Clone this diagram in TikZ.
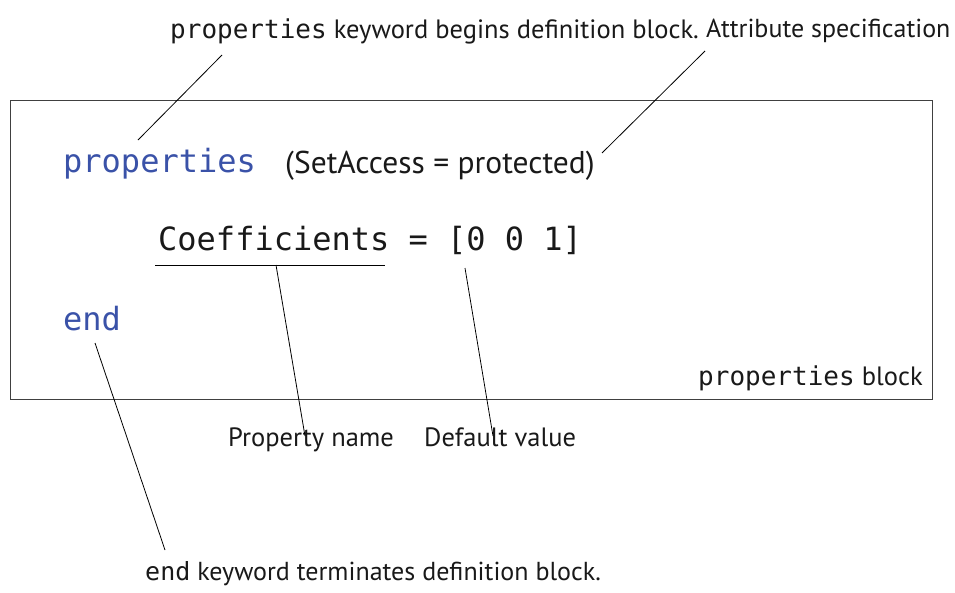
\documentclass[tikz,border=0pt]{standalone}
\usepackage{fontspec}
\setmainfont{PT Sans}
\setmonofont{DejaVu Sans Mono}
\definecolor{kwblue}{RGB}{58,82,168}
\definecolor{textgray}{RGB}{25,25,25}
\begin{document}
\begin{tikzpicture}[x=1pt,y=-1pt,
  lbl/.style={anchor=base west,inner sep=0pt,text=textgray,font=\fontsize{26.5}{30}\selectfont},
  code/.style={anchor=base west,inner sep=0pt,text=textgray,font=\ttfamily\fontsize{32}{36}\selectfont},
  kw/.style={code,text=kwblue},
  conn/.style={draw=black,line width=0.8pt}]
\useasboundingbox (0,0) rectangle (955,592);
\node[draw=black!75,line width=0.8pt,minimum width=922pt,minimum height=299pt,anchor=north west,inner sep=0pt] (box) at (10,100) {};
% top labels
\node[lbl] (topl) at (170,38) {{\ttfamily\fontsize{26}{30}\selectfont properties} keyword begins definition block.};
\node[lbl,font=\fontsize{26}{30}\selectfont] (attr) at (706,37) {Attribute specification};
% code
\node[kw] (props) at (63,172) {properties};
\node[lbl,font=\fontsize{31.5}{36}\selectfont] (setacc) at (285,173) {(SetAccess = protected)};
\node[code] (coef) at (158,250) {Coefficients = [0 0 1]};
\node[kw] (endkw) at (63,330) {end};
\node[lbl] (blk) at (698,385) {{\ttfamily\fontsize{26}{30}\selectfont properties} block};
% bottom labels
\node[lbl] (pname) at (228,446) {Property name};
\node[lbl] (dval) at (424,446) {Default value};
\node[lbl,font=\fontsize{26}{30}\selectfont] (endl) at (145,580) {{\ttfamily\fontsize{25}{30}\selectfont end} keyword terminates definition block.};
% connectors
\coordinate (c1a) at (222,55); \coordinate (c1b) at (138,140);
\draw[conn] (c1a) -- (c1b);
\coordinate (c2a) at (705,51); \coordinate (c2b) at (602,153);
\draw[conn] (c2a) -- (c2b);
\coordinate (u1) at (155,265); \coordinate (u2) at (385,265);
\draw[conn] (u1) -- (u2);
\coordinate (p1) at (276,265); \coordinate (p2) at (305,436);
\draw[conn] (p1) -- (p2);
\coordinate (d1) at (465,268); \coordinate (d2) at (493,436);
\draw[conn] (d1) -- (d2);
\coordinate (e1) at (95,343); \coordinate (e2) at (165,550);
\draw[conn] (e1) -- (e2);
\end{tikzpicture}
\end{document}
